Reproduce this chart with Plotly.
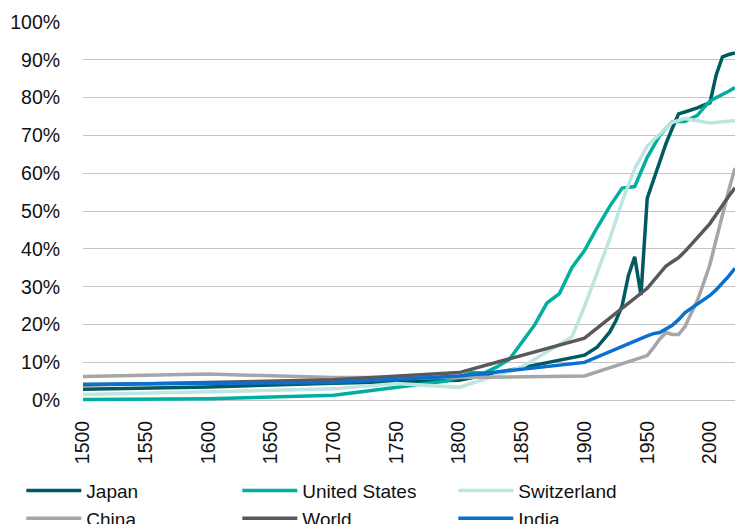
import plotly.graph_objects as go

# ---- data (urban share of population, %) ----
japan_years = [1500, 1600, 1700, 1800, 1900, 1910, 1920, 1925, 1930, 1935, 1940, 1945, 1950, 1955, 1960, 1965,
               1970, 1975, 1980, 1985, 1990, 1995, 2000, 2005, 2010, 2015, 2020]
japan_vals = [2.9, 3.5, 4.5, 5.3, 11.9, 14.0, 18.0, 21.0, 25.0, 33.0, 37.9, 27.8, 53.4, 58.3, 63.3, 67.9,
              71.9, 75.7, 76.2, 76.7, 77.3, 78.0, 78.6, 86.0, 90.8, 91.4, 91.8]

us_years = [1500, 1600, 1700, 1790, 1800, 1810, 1820, 1830, 1840, 1850, 1860, 1870, 1880, 1890, 1900, 1910,
            1920, 1930, 1940, 1950, 1955, 1960, 1965, 1970, 1975, 1980, 1985, 1990, 1995, 2000, 2005, 2010,
            2015, 2020]
us_vals = [0.2, 0.4, 1.3, 5.1, 6.1, 7.3, 7.2, 8.8, 10.8, 15.4, 19.8, 25.7, 28.2, 35.1, 39.6, 45.6,
           51.2, 56.1, 56.5, 64.2, 67.1, 70.0, 71.9, 73.6, 73.7, 73.7, 74.5, 75.3, 77.3, 79.1, 80.0, 80.8,
           81.7, 82.7]

swiss_years = [1500, 1600, 1700, 1750, 1800, 1850, 1890, 1900, 1910, 1920, 1930, 1940, 1950, 1960, 1970,
               1980, 1990, 2000, 2010, 2020]
swiss_vals = [1.5, 2.3, 3.0, 4.4, 3.4, 8.8, 16.8, 24.8, 33.5, 42.5, 52.5, 61.2, 67.2, 70.5, 73.5,
              74.5, 73.8, 73.3, 73.6, 73.9]

china_years = [1500, 1600, 1700, 1800, 1900, 1950, 1955, 1960, 1965, 1970, 1975, 1980, 1985, 1990, 1995,
               2000, 2005, 2010, 2015, 2020]
china_vals = [6.3, 6.9, 6.0, 6.0, 6.4, 11.8, 13.9, 16.2, 17.9, 17.4, 17.4, 19.4, 22.9, 26.4, 31.0,
              35.9, 42.5, 49.2, 55.5, 61.4]

world_years = [1500, 1600, 1700, 1800, 1900, 1950, 1955, 1960, 1965, 1970, 1975, 1980, 1985, 1990, 1995,
               2000, 2005, 2010, 2015, 2020]
world_vals = [4.0, 4.8, 5.4, 7.3, 16.4, 29.6, 31.6, 33.6, 35.5, 36.6, 37.7, 39.3, 41.2, 43.0, 44.8,
              46.7, 49.1, 51.7, 53.9, 56.2]

india_years = [1500, 1600, 1700, 1800, 1900, 1950, 1955, 1960, 1965, 1970, 1975, 1980, 1985, 1990, 1995,
               2000, 2005, 2010, 2015, 2020]
india_vals = [4.2, 4.4, 4.7, 6.4, 10.0, 17.0, 17.6, 17.9, 18.8, 19.8, 21.3, 23.1, 24.3, 25.5, 26.6,
              27.7, 29.2, 30.9, 32.8, 34.9]

series = [
    ("Japan", japan_years, japan_vals, "#005A61"),
    ("United States", us_years, us_vals, "#00AFA0"),
    ("Switzerland", swiss_years, swiss_vals, "#BFE5E0"),
    ("China", china_years, china_vals, "#A6A6A6"),
    ("World", world_years, world_vals, "#595959"),
    ("India", india_years, india_vals, "#0A70CE"),
]

y_ticks = [0, 10, 20, 30, 40, 50, 60, 70, 80, 90, 100]
y_tick_labels = [f"{v}%" for v in y_ticks]
x_ticks = [1500, 1550, 1600, 1650, 1700, 1750, 1800, 1850, 1900, 1950, 2000]

FONT = "Liberation Sans, Arial, Helvetica, sans-serif"

fig = go.Figure()
for name, xs, ys, col in series:
    fig.add_trace(go.Scatter(x=xs, y=ys, mode="lines", name=name,
                             line=dict(color=col, width=3.5)))

fig.update_layout(
    width=735, height=524,
    margin=dict(l=83, r=0, t=22, b=120, autoexpand=False),
    paper_bgcolor="white", plot_bgcolor="white",
    font=dict(family=FONT, size=19, color="#111111"),
    showlegend=True,
    legend=dict(orientation="h", x=0.029, xref="container", xanchor="left",
                y=0.1, yref="container", yanchor="top",
                entrywidth=146, entrywidthmode="pixels",
                font=dict(family=FONT, size=19, color="#111111"),
                tracegroupgap=0, itemwidth=55, bgcolor="rgba(0,0,0,0)"),
)
fig.update_xaxes(range=[1500, 2020], tickvals=x_ticks, tickangle=-90, automargin=False,
                 showgrid=False, zeroline=False, showline=False,
                 ticks="outside", ticklen=8, tickcolor="rgba(0,0,0,0)",
                 tickfont=dict(family=FONT, size=19.5, color="#111111"))
fig.update_yaxes(range=[-1, 100], tickvals=y_ticks, ticktext=y_tick_labels, automargin=False,
                 showgrid=True, gridcolor="#C4C4C4", gridwidth=1.2,
                 zeroline=False, showline=False,
                 ticks="outside", ticklen=18, tickcolor="rgba(0,0,0,0)",
                 tickfont=dict(family=FONT, size=19.5, color="#111111"))

fig.write_html("out.html", config={"displayModeBar": False},
               post_script="document.body.style.margin='0';")
